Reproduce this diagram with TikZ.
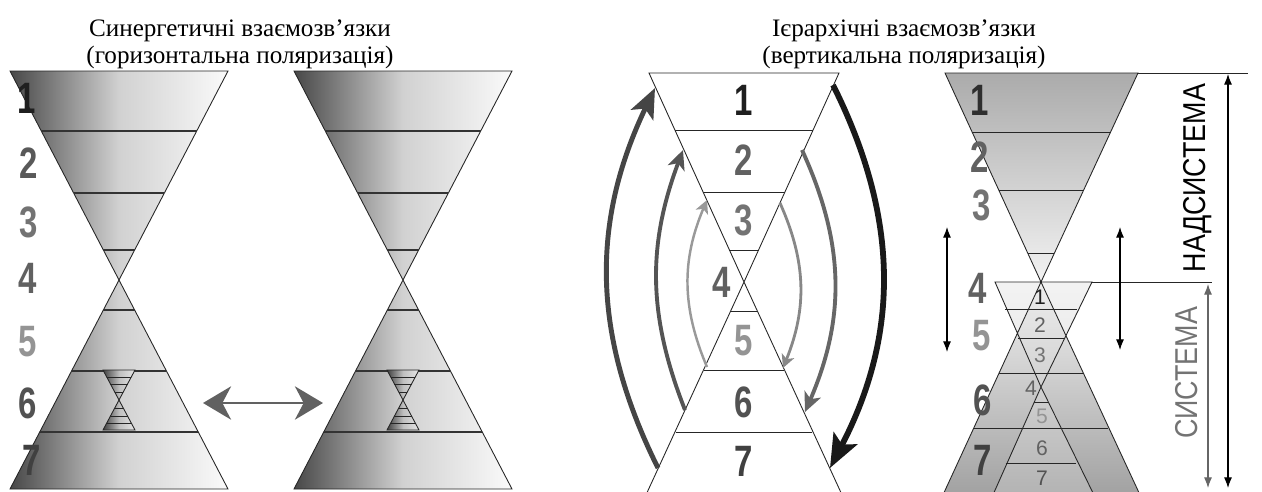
\documentclass[tikz,border=0pt]{standalone}
\usepackage{fontspec}
\setmainfont{Liberation Serif}
\setsansfont{Liberation Sans}
\newfontfamily\narrowsf[FakeStretch=0.85]{Liberation Sans}
\newfontfamily\digitsf[FakeStretch=0.75]{Liberation Sans}
\usetikzlibrary{arrows.meta}

\begin{document}
\begin{tikzpicture}[x=0.02cm,y=-0.02cm,every node/.style={inner sep=0pt,outer sep=0pt},title/.style={font=\fontsize{14.3}{15.5}\selectfont,align=center},num/.style={font=\digitsf\bfseries\fontsize{25}{25}\selectfont},snum/.style={font=\sffamily\fontsize{12}{12}\selectfont},outline/.style={draw=black!85,line width=0.5pt},band/.style={draw=black!80,line width=0.9pt},varrow/.style={{Latex[length=6pt,width=4.5pt]}-{Latex[length=6pt,width=4.5pt]},line width=0.6pt},harrow/.style={{Stealth[length=16pt,width=19pt,inset=5pt]}-{Stealth[length=16pt,width=19pt,inset=5pt]},black!62,line width=1.1pt}]
\useasboundingbox (0,0) rectangle (1262,491);
% titles
\node[title] (tl) at (240,44) {Синергетичні взаємозв’язки\\(горизонтальна поляризація)};
\node[title] (tr) at (904,44) {Ієрархічні взаємозв’язки\\(вертикальна поляризація)};
% two shaded hourglasses
\foreach \cx in {119,403}{
  \path[left color=black!72,right color=black!2,middle color=black!18] ({\cx-109},71) -- ({\cx+109},71) -- (\cx,280) -- cycle (\cx,280) -- ({\cx+109},489) -- ({\cx-109},489) -- cycle;
  \draw[outline] ({\cx-109},71) -- ({\cx+109},71) -- (\cx,280) -- cycle (\cx,280) -- ({\cx+109},489) -- ({\cx-109},489) -- cycle;
  \foreach \d in {149,87,30}
    \draw[band] ({\cx-0.5215*\d},{280-\d}) -- ({\cx+0.5215*\d},{280-\d});
  \foreach \d in {30,91,152}
    \draw[band] ({\cx-0.5215*\d},{280+\d}) -- ({\cx+0.5215*\d},{280+\d});
  % small hourglass inside level 6
  \path[left color=black!75,right color=black!10,middle color=black!25] ({\cx-16},370) -- ({\cx+16},370) -- (\cx,400) -- cycle (\cx,400) -- ({\cx+16},430) -- ({\cx-16},430) -- cycle;
  \draw[outline] ({\cx-16},370) -- ({\cx+16},370) -- (\cx,400) -- cycle (\cx,400) -- ({\cx+16},430) -- ({\cx-16},430) -- cycle;
  \foreach \d in {8,16,23}
    \draw[outline] ({\cx-0.533*\d},{400-\d}) -- ({\cx+0.533*\d},{400-\d}) ({\cx-0.533*\d},{400+\d}) -- ({\cx+0.533*\d},{400+\d});
}
\foreach \t/\x/\y/\c in {1/27/98/88,2/29/163/65,3/29/222/55,4/28/278/62,5/28/342/42,6/28/403/68,7/32/460/75}
  \node[num,text=black!\c] (a\t) at (\x,\y) {\t};
\coordinate (hl) at (203,403);
\coordinate (hr) at (323,403);
\draw[harrow] (hl) -- (hr);
% outlined hourglass with loops
\draw[outline] (649,73) -- (839,73) -- (744,282) -- cycle (645,497) -- (744,282) -- (843,497);
\foreach \d in {152,90,32}
  \draw[outline] ({744-0.4545*\d},{282-\d}) -- ({744+0.4545*\d},{282-\d});
\foreach \d in {29,88,150}
  \draw[outline] ({744-0.4545*\d},{282+\d}) -- ({744+0.4545*\d},{282+\d});
\foreach \t/\x/\y/\c in {1/744/100/88,2/744/160/62,3/744/220/55,4/722/282/62,5/744/341/42,6/744/402/68,7/744/461/75}
  \node[num,text=black!\c] (c\t) at (\x,\y) {\t};
\coordinate (lo1) at (658,468); \coordinate (lo2) at (655,88);
\coordinate (lm1) at (685,410); \coordinate (lm2) at (683,150);
\coordinate (li1) at (707,367); \coordinate (li2) at (707,200);
\coordinate (ro1) at (833,85);  \coordinate (ro2) at (830,468);
\coordinate (rm1) at (802,150); \coordinate (rm2) at (805,412);
\coordinate (ri1) at (780,203); \coordinate (ri2) at (783,368);
\draw[-{Stealth[length=17pt,width=14pt,inset=4pt]},black!73,line width=2.8pt] (lo1) to[bend left=26] (lo2);
\draw[-{Stealth[length=11pt,width=10pt,inset=3pt]},black!67,line width=2.2pt] (lm1) to[bend left=21] (lm2);
\draw[-{Stealth[length=7.5pt,width=7.5pt,inset=2pt]},black!40,line width=1.4pt] (li1) to[bend left=23] (li2);
\draw[-{Stealth[length=19pt,width=15pt,inset=4pt]},black!90,line width=3.3pt] (ro1) to[bend left=27] (ro2);
\draw[-{Stealth[length=11pt,width=10pt,inset=3pt]},black!60,line width=2.2pt] (rm1) to[bend left=24] (rm2);
\draw[-{Stealth[length=7.5pt,width=7.5pt,inset=2pt]},black!47,line width=1.6pt] (ri1) to[bend left=23] (ri2);
% hourglass with system inside
\path[top color=black!33,bottom color=black!5] (945,73) -- (1138,73) -- (1041,282) -- cycle;
\path[top color=black!5,bottom color=black!37] (1041,282) -- (1141,497) -- (942,497) -- cycle;
\path[top color=black!8,bottom color=black!25,fill opacity=0.6] (995,282) -- (1092,282) -- (1041,387) -- cycle (1041,387) -- (1095,497) -- (992,497) -- cycle;
\draw[outline] (945,73) -- (1138,73) -- (1041,282) -- cycle (942,497) -- (1041,282) -- (1141,497) (995,282) -- (1092,282) -- (1041,387) -- cycle (992,497) -- (1041,387) -- (1095,497);
\foreach \d in {150,92,29}
  \draw[outline] ({1041-0.4617*\d},{282-\d}) -- ({1041+0.4617*\d},{282-\d});
\foreach \d in {91,146}
  \draw[outline] ({1041-0.4617*\d},{282+\d}) -- ({1041+0.4617*\d},{282+\d});
\foreach \y/\w in {309/36,338/22.6,402/7,463/35.4}
  \draw[outline] ({1041-\w},\y) -- ({1041+\w},\y);
\foreach \t/\x/\y/\c in {1/980/100/82,2/980/157/62,3/982/205/55,4/978/288/62,5/982/336/42,6/983/400/68,7/983/460/75}
  \node[num,text=black!\c] (d\t) at (\x,\y) {\t};
\foreach \t/\x/\y/\c in {1/1040/297/88,2/1040/325/62,3/1040/355/55,4/1031/388/62,5/1042/416/42,6/1042/448/62,7/1042/478/68}
  \node[snum,text=black!\c] (s\t) at (\x,\y) {\t};
\draw[outline] (1138,73) -- (1248,73);
\draw[outline] (1092,282) -- (1212,282);
\coordinate (v1t) at (947,227); \coordinate (v1b) at (947,352);
\coordinate (v2t) at (1120,227); \coordinate (v2b) at (1120,350);
\coordinate (nt) at (1228,74); \coordinate (nb) at (1228,488);
\coordinate (st) at (1208,284); \coordinate (sb) at (1208,488);
\draw[varrow] (v1t) -- (v1b);
\draw[varrow] (v2t) -- (v2b);
\draw[varrow] (nt) -- (nb);
\draw[varrow,black!60] (st) -- (sb);
\node[rotate=90,font=\narrowsf\fontsize{18}{18}\selectfont] (nad) at (1198,178) {НАДСИСТЕМА};
\node[rotate=90,font=\narrowsf\fontsize{18}{18}\selectfont,text=black!55] (sys) at (1187,373) {СИСТЕМА};
\end{tikzpicture}
\end{document}
